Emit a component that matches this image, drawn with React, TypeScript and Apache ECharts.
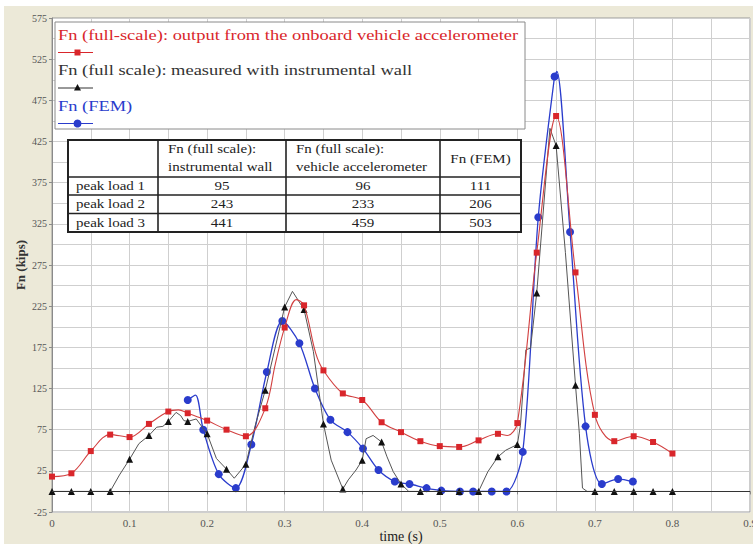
import React, { useEffect, useRef } from 'react';
import * as echarts from 'echarts';

// [time (s), Fn (kips), marker shown (1) or not (0)]
const accelSeries: number[][] = [
  [0, 18, 1], [0.025, 22, 1], [0.05, 49, 1], [0.075, 69, 1], [0.1, 66, 1], [0.125, 82, 1],
  [0.15, 97, 1], [0.163, 99, 0], [0.175, 95, 1], [0.2, 86, 1], [0.225, 75, 1], [0.25, 67, 1],
  [0.275, 101, 1], [0.288, 155, 0], [0.3, 199, 1], [0.315, 233, 0], [0.325, 226, 1], [0.34, 168, 0],
  [0.35, 147, 1], [0.375, 119, 1], [0.4, 111, 1], [0.425, 84, 1], [0.45, 72, 1], [0.475, 61, 1],
  [0.5, 55, 1], [0.525, 54, 1], [0.55, 62, 1], [0.575, 70, 1], [0.587, 68, 0], [0.6, 83, 1],
  [0.625, 290, 1], [0.65, 456, 1], [0.675, 266, 1], [0.7, 93, 1], [0.725, 61, 1], [0.75, 67, 1],
  [0.775, 60, 1], [0.8, 46, 1],
];

const wallSeries: number[][] = [
  [0, 0, 1], [0.025, 0, 1], [0.05, 0, 1], [0.075, 0, 1], [0.087, 20, 0], [0.1, 39, 1], [0.112, 58, 0],
  [0.125, 68, 1], [0.135, 78, 0], [0.143, 79, 0], [0.15, 85, 1], [0.16, 96, 0], [0.166, 92, 0],
  [0.17, 86, 0], [0.175, 85, 1], [0.186, 88, 0], [0.2, 70, 1], [0.212, 40, 0], [0.225, 27, 1],
  [0.235, 16, 0], [0.25, 33, 1], [0.262, 80, 0], [0.275, 123, 1], [0.3, 224, 1], [0.31, 243, 0],
  [0.325, 221, 1], [0.337, 170, 0], [0.35, 82, 1], [0.36, 38, 0], [0.375, 3, 1], [0.382, 14, 0],
  [0.392, 26, 0], [0.4, 38, 1], [0.405, 64, 0], [0.414, 68, 0], [0.425, 60, 1], [0.432, 42, 0],
  [0.44, 24, 0], [0.45, 9, 1], [0.46, 0, 0], [0.475, 0, 1], [0.5, 0, 1], [0.525, 0, 1], [0.55, 0, 1],
  [0.562, 24, 0], [0.575, 42, 1], [0.585, 50, 0], [0.6, 57, 1], [0.604, 80, 0], [0.611, 172, 0],
  [0.617, 174, 0], [0.625, 241, 1], [0.642, 441, 0], [0.65, 420, 1], [0.662, 290, 0], [0.675, 129, 1],
  [0.68, 70, 0], [0.684, 4, 0], [0.69, 0, 0], [0.7, 0, 1], [0.725, 0, 1], [0.75, 0, 1], [0.775, 0, 1],
  [0.8, 0, 1],
];

const femSeries: number[][] = [
  [0.175, 111, 1], [0.185, 117, 0], [0.195, 75, 1], [0.215, 21, 1], [0.237, 4, 1], [0.257, 57, 1],
  [0.277, 145, 1], [0.297, 207, 1], [0.319, 180, 1], [0.339, 125, 1], [0.359, 87, 1], [0.381, 72, 1],
  [0.401, 52, 1], [0.421, 26, 1], [0.442, 12, 1], [0.461, 9, 1], [0.483, 4, 1], [0.502, 1, 1],
  [0.526, 0, 1], [0.543, 0, 1], [0.567, 0, 1], [0.586, 0, 1], [0.607, 48, 1], [0.627, 333, 1],
  [0.648, 504, 1], [0.651, 510, 0], [0.668, 315, 1], [0.688, 79, 1], [0.709, 9, 1], [0.73, 15, 1],
  [0.749, 12, 1],
];

const legendNames = [
  'Fn (full-scale): output from the onboard vehicle accelerometer',
  'Fn (full scale): measured with instrumental wall',
  'Fn (FEM)',
];

const tableHeaderLines: string[][] = [
  [],
  ['Fn (full scale):', 'instrumental wall'],
  ['Fn (full scale):', 'vehicle accelerometer'],
  ['Fn (FEM)'],
];
const tableRowLabels = ['peak load 1', 'peak load 2', 'peak load 3'];
const wallPeaks = [95, 243, 441];
const accelPeaks = [96, 233, 459];
const femPeaks = [111, 206, 503];

const RED = '#d9262b';
const BLUE = '#2a3ccc';
const SERIF = '"Liberation Serif", "Times New Roman", serif';

function toData(arr: number[][], symbol: string, size: number) {
  return arr.map(([t, v, m]) => ({
    value: [t, v],
    symbol: m ? symbol : 'none',
    symbolSize: m ? size : 0,
  }));
}

function buildGraphics() {
  const g: any[] = [];
  // beige frame
  g.push({ type: 'rect', z: -10, silent: true, shape: { x: 4, y: 6, width: 760, height: 545 }, style: { fill: '#ece9d8' } });

  // legend box
  const lx = 55, ly = 22, lw = 470, lh = 107;
  g.push({ type: 'rect', z: 50, shape: { x: lx, y: ly, width: lw, height: lh }, style: { fill: '#fff', stroke: '#8a8a8a', lineWidth: 1 } });
  const colors = [RED, '#333', BLUE];
  const symbols = ['rect', 'triangle', 'circle'];
  legendNames.forEach((name, i) => {
    const ty = 35 + i * 35.5;
    g.push({
      type: 'text', z: 51, x: 58, y: ty, scaleX: 1.23,
      style: { text: name, fill: colors[i], font: `15px ${SERIF}`, textAlign: 'left', textVerticalAlign: 'middle' },
    });
    const my = ty + 17.5;
    g.push({ type: 'line', z: 51, shape: { x1: 58, y1: my, x2: 93, y2: my }, style: { stroke: colors[i], lineWidth: 1 } });
    if (symbols[i] === 'rect') {
      g.push({ type: 'rect', z: 52, shape: { x: 74.5, y: my - 3, width: 6, height: 6 }, style: { fill: RED } });
    } else if (symbols[i] === 'triangle') {
      g.push({ type: 'polygon', z: 52, shape: { points: [[77.5, my - 4], [74, my + 2.5], [81, my + 2.5]] }, style: { fill: '#111' } });
    } else {
      g.push({ type: 'circle', z: 52, shape: { cx: 77.5, cy: my, r: 4 }, style: { fill: BLUE } });
    }
  });

  // table
  const colX = [68, 158, 286, 440, 521];
  const rowY = [140, 177, 195, 213.5, 232];
  g.push({ type: 'rect', z: 50, shape: { x: colX[0], y: rowY[0], width: colX[4] - colX[0], height: rowY[4] - rowY[0] }, style: { fill: '#fff', stroke: '#222', lineWidth: 2 } });
  for (let c = 1; c < colX.length - 1; c++) {
    g.push({ type: 'line', z: 51, shape: { x1: colX[c], y1: rowY[0], x2: colX[c], y2: rowY[4] }, style: { stroke: '#222', lineWidth: 1.6 } });
  }
  for (let r = 1; r < rowY.length - 1; r++) {
    g.push({ type: 'line', z: 51, shape: { x1: colX[0], y1: rowY[r], x2: colX[4], y2: rowY[r] }, style: { stroke: '#222', lineWidth: 1.6 } });
  }
  const tfont = `12.5px ${SERIF}`;
  const tsx = 1.2;
  tableHeaderLines.forEach((lines, c) => {
    if (lines.length === 2) {
      lines.forEach((ln, k) => {
        g.push({ type: 'text', z: 52, x: colX[c] + 10, y: 149 + k * 17.5, scaleX: tsx,
          style: { text: ln, fill: '#222', font: tfont, textAlign: 'left', textVerticalAlign: 'middle' } });
      });
    } else if (lines.length === 1) {
      g.push({ type: 'text', z: 52, x: (colX[c] + colX[c + 1]) / 2, y: 159, scaleX: tsx,
        style: { text: lines[0], fill: '#222', font: tfont, textAlign: 'center', textVerticalAlign: 'middle' } });
    }
  });
  const cols = [wallPeaks, accelPeaks, femPeaks];
  tableRowLabels.forEach((lab, r) => {
    const cy = (rowY[r + 1] + rowY[r + 2]) / 2;
    g.push({ type: 'text', z: 52, x: colX[0] + 8, y: cy, scaleX: tsx,
      style: { text: lab, fill: '#222', font: tfont, textAlign: 'left', textVerticalAlign: 'middle' } });
    cols.forEach((vals, c) => {
      g.push({ type: 'text', z: 52, x: (colX[c + 1] + colX[c + 2]) / 2, y: cy, scaleX: tsx,
        style: { text: String(vals[r]), fill: '#222', font: tfont, textAlign: 'center', textVerticalAlign: 'middle' } });
    });
  });
  return g;
}

export default function App() {
  const ref = useRef<HTMLDivElement>(null);
  useEffect(() => {
    if (!ref.current) return;
    const chart = echarts.init(ref.current, undefined, { renderer: 'svg' });
    const gridLine = { show: true, lineStyle: { color: '#cfcfcf', width: 1 } };
    chart.setOption({
      animation: false,
      backgroundColor: '#ffffff',
      grid: {
        left: 52, right: 3, top: 18, bottom: 32, show: true, backgroundColor: '#ffffff',
        borderColor: '#9a9a9a', borderWidth: 1, containLabel: false, outerBoundsMode: 'none',
      },
      xAxis: {
        type: 'value', min: 0, max: 0.9, interval: 0.1,
        name: 'time (s)', nameLocation: 'middle', nameGap: 17, nameMoveOverlap: false,
        nameTextStyle: { fontFamily: SERIF, fontSize: 14, color: '#222', verticalAlign: 'top' },
        axisLine: { show: true, lineStyle: { color: '#8a8a8a' } },
        axisTick: { show: true, length: 3, lineStyle: { color: '#8a8a8a' } },
        minorTick: { show: true, splitNumber: 2, length: 0 },
        axisLabel: { fontFamily: SERIF, fontSize: 11, color: '#555', margin: 5,
          formatter: (v: number) => String(Math.round(v * 10) / 10) },
        splitLine: gridLine,
        minorSplitLine: gridLine,
      },
      yAxis: {
        type: 'value', min: -25, max: 575, interval: 50,
        name: 'Fn (kips)', nameLocation: 'middle', nameGap: 25, nameMoveOverlap: false,
        nameTextStyle: { fontFamily: SERIF, fontSize: 13, fontWeight: 'bold', color: '#333' },
        axisLine: { show: true, lineStyle: { color: '#8a8a8a' } },
        axisTick: { show: true, length: 3, lineStyle: { color: '#8a8a8a' } },
        minorTick: { show: true, splitNumber: 2, length: 0 },
        axisLabel: { fontFamily: SERIF, fontSize: 10, color: '#555', margin: 5 },
        splitLine: gridLine,
        minorSplitLine: gridLine,
      },
      series: [
        {
          name: legendNames[2], type: 'line', smooth: 0.3, showAllSymbol: true,
          data: toData(femSeries, 'circle', 8),
          lineStyle: { color: BLUE, width: 1.3 }, itemStyle: { color: BLUE }, z: 2,
        },
        {
          name: legendNames[1], type: 'line', smooth: false, showAllSymbol: true,
          data: toData(wallSeries, 'triangle', 7),
          lineStyle: { color: '#555', width: 1 }, itemStyle: { color: '#111' }, z: 3,
          markLine: {
            silent: true, symbol: ['none', 'none'], label: { show: false },
            lineStyle: { color: '#333', width: 1, type: 'solid' },
            data: [{ yAxis: 0 }],
          },
        },
        {
          name: legendNames[0], type: 'line', smooth: 0.35, showAllSymbol: true,
          data: toData(accelSeries, 'rect', 6),
          lineStyle: { color: '#d24040', width: 1.1 }, itemStyle: { color: RED }, z: 4,
        },
      ],
      graphic: buildGraphics(),
    });
    return () => chart.dispose();
  }, []);
  return (
    <div style={{ position: 'fixed', left: 0, top: 0, width: 753, height: 544, background: '#fff' }}>
      <div ref={ref} style={{ width: 753, height: 544 }} />
    </div>
  );
}
